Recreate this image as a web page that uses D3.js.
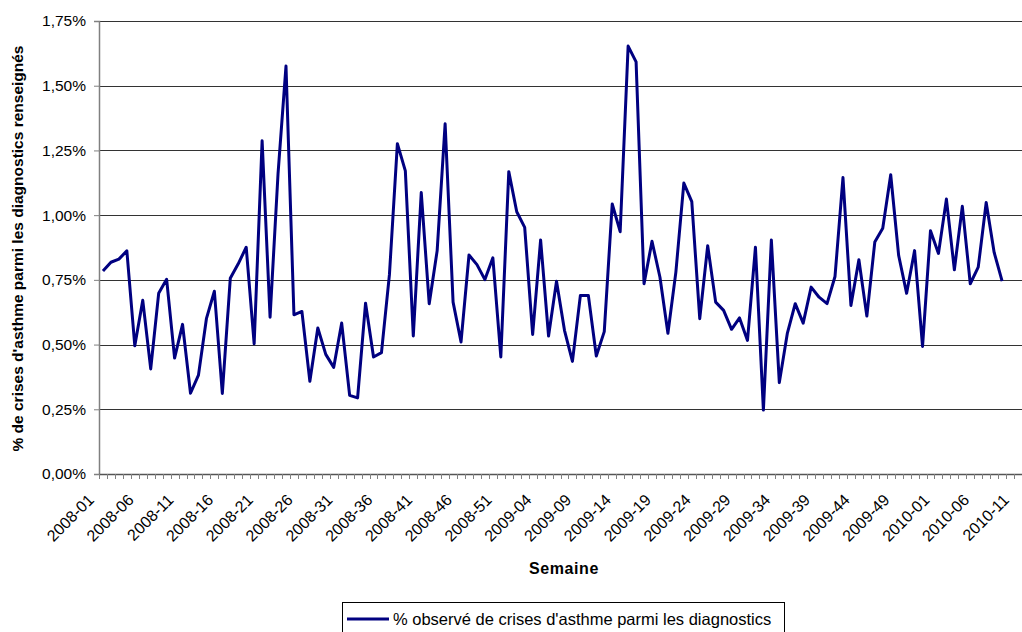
<!DOCTYPE html>
<html><head><meta charset="utf-8">
<script src="https://cdn.jsdelivr.net/npm/d3@7"></script>
<style>
html,body{margin:0;padding:0;background:#fff;}
svg{display:block;font-family:"Liberation Sans",Arial,sans-serif;}
</style></head>
<body>
<svg id="c" width="1022" height="632"></svg>
<script>
// ---- data ----
const years = [2008, 2009, 2010];
const weeksShown = [52, 53, 11];
const values = [
 0.784,0.818,0.830,0.862,0.495,0.671,0.406,0.698,0.752,0.448,
 0.578,0.312,0.382,0.600,0.706,0.311,0.756,0.812,0.876,0.503,
 1.287,0.606,1.160,1.576,0.615,0.628,0.358,0.564,0.462,0.412,
 0.583,0.304,0.294,0.660,0.452,0.469,0.770,1.276,1.171,0.533,
 1.087,0.658,0.863,1.353,0.664,0.510,0.846,0.809,0.751,0.835,
 0.452,1.168,1.013,0.953,0.539,0.904,0.533,0.745,0.555,0.435,
 0.690,0.690,0.456,0.550,1.043,0.936,1.653,1.592,0.735,0.899,
 0.760,0.544,0.780,1.124,1.052,0.600,0.882,0.664,0.632,0.559,
 0.603,0.516,0.876,0.247,0.904,0.353,0.542,0.658,0.583,0.722,
 0.683,0.658,0.763,1.145,0.651,0.828,0.610,0.896,0.949,1.156,
 0.844,0.698,0.863,0.493,0.940,0.852,1.062,0.789,1.034,0.735,
 0.799,1.049,0.856,0.745
];
const yTicks = [0, 0.25, 0.5, 0.75, 1.0, 1.25, 1.5, 1.75];
const seriesName = "% observé de crises d'asthme parmi les diagnostics";
const yTitle = "% de crises d'asthme parmi les diagnostics renseignés";
const xTitle = "Semaine";

const categories = [];
years.forEach((y, i) => {
  for (let w = 1; w <= weeksShown[i]; w++) categories.push(y + "-" + String(w).padStart(2, "0"));
});

// ---- layout ----
const svg = d3.select("#c");
const L = 99, R = 1022, T = 21, B = 474;
const x = d3.scaleBand().domain(categories).range([L, R]).paddingInner(0).paddingOuter(0);
const y = d3.scaleLinear().domain([0, 1.75]).range([B, T]);
const fr = d3.formatLocale({decimal: ",", thousands: " ", grouping: [3], currency: ["", "€"]});
const fmt = v => fr.format(".2f")(v) + "%";

// gridlines
svg.append("g").selectAll("line").data(yTicks.filter(d => d > 0)).join("line")
  .attr("x1", L).attr("x2", R).attr("y1", d => Math.round(y(d)) + 0.5).attr("y2", d => Math.round(y(d)) + 0.5)
  .attr("stroke", "#333").attr("stroke-width", 1);

// y axis
const yAxis = d3.axisLeft(y).tickValues(yTicks).tickFormat(fmt).tickSize(5).tickPadding(8);
const gy = svg.append("g").attr("transform", `translate(${L},0)`).call(yAxis);
gy.select(".domain").attr("stroke", "#808080").attr("stroke-width", 1.5);
gy.selectAll(".tick line").attr("stroke", "#808080");
gy.selectAll(".tick text").attr("font-size", 15.5).attr("fill", "#000")
  .attr("font-family", "Liberation Sans, Arial, sans-serif");

// x axis baseline + ticks at category boundaries
const gx = svg.append("g");
gx.append("line").attr("x1", L).attr("x2", R).attr("y1", B + 0.5).attr("y2", B + 0.5)
  .attr("stroke", "#555").attr("stroke-width", 1.5);
gx.selectAll("line.tk").data(categories).join("line").attr("class", "tk")
  .attr("x1", d => Math.round(x(d)) + 0.5).attr("x2", d => Math.round(x(d)) + 0.5)
  .attr("y1", B).attr("y2", B + 5).attr("stroke", "#808080").attr("stroke-width", 1);
gx.selectAll("text").data(categories.filter((d, i) => i % 5 === 0)).join("text")
  .attr("transform", d => `translate(${x(d) + x.bandwidth() / 2 - 12},${B + 23}) rotate(-45)`)
  .attr("dy", "0.35em").attr("text-anchor", "end").attr("font-size", 16).attr("fill", "#000")
  .text(d => d);

// line
const line = d3.line().x((d, i) => x(categories[i]) + x.bandwidth() / 2).y(d => y(d));
svg.append("path").datum(values).attr("d", line).attr("fill", "none")
  .attr("stroke", "#000080").attr("stroke-width", 3).attr("stroke-linejoin", "round");

// titles
svg.append("text").attr("transform", `translate(23,${(T + B) / 2 + 1}) rotate(-90)`)
  .attr("text-anchor", "middle").attr("font-size", 15.5).attr("font-weight", "bold").text(yTitle);
svg.append("text").attr("x", 564).attr("y", 574).attr("text-anchor", "middle")
  .attr("font-size", 16).attr("letter-spacing", 0.6).attr("font-weight", "bold").text(xTitle);

// legend
const lg = svg.append("g");
lg.append("rect").attr("x", 342.5).attr("y", 602.5).attr("width", 442).attr("height", 40)
  .attr("fill", "#fff").attr("stroke", "#000").attr("stroke-width", 1);
lg.append("line").attr("x1", 347).attr("x2", 389).attr("y1", 619).attr("y2", 619)
  .attr("stroke", "#000080").attr("stroke-width", 3);
lg.append("text").attr("x", 393).attr("y", 625).attr("font-size", 16.5).text(seriesName);
</script>
</body></html>
